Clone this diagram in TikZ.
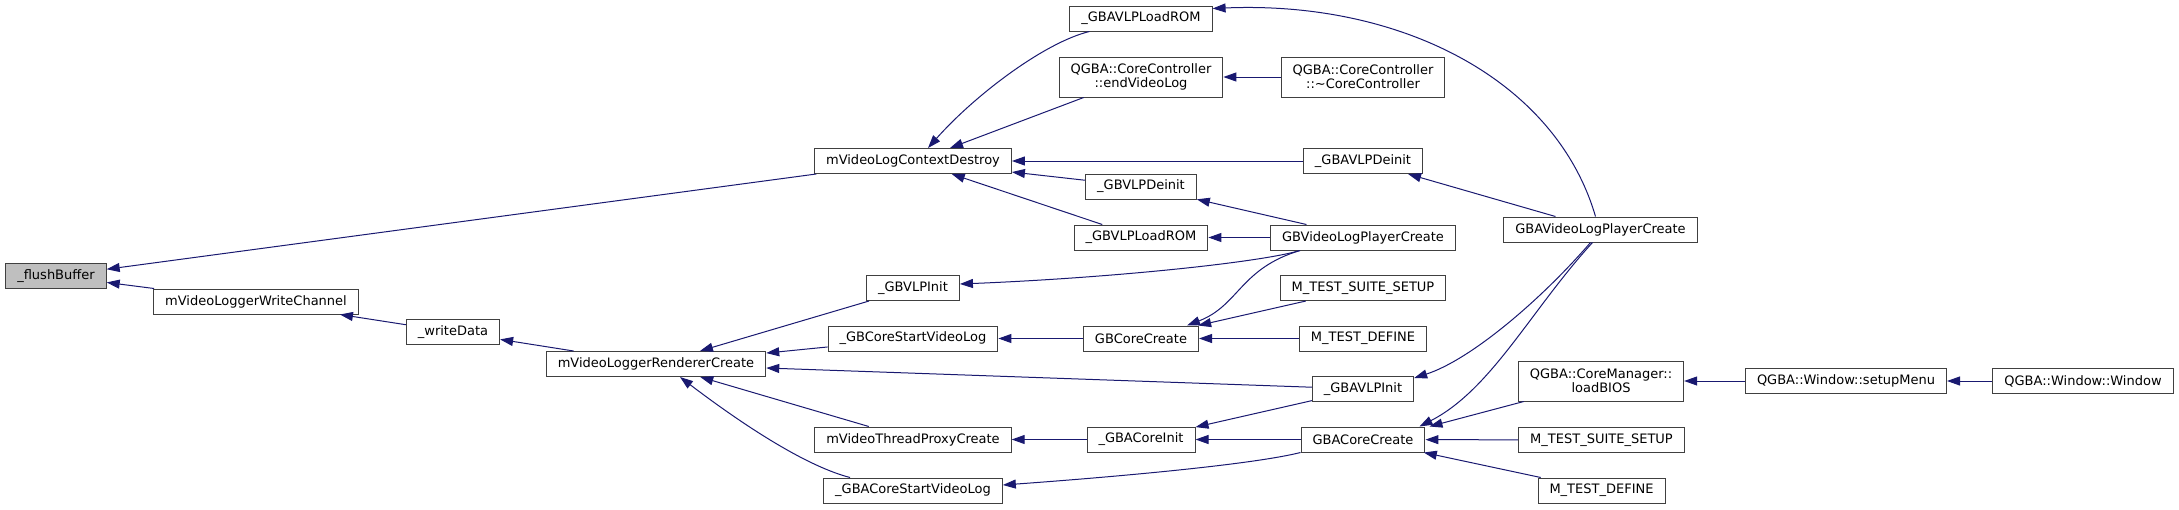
\documentclass[tikz,border=0pt]{standalone}
\usepackage{fontspec}
\setmainfont{DejaVu Sans}
\usetikzlibrary{arrows.meta, calc}
\definecolor{EdgeBlue}{HTML}{191970}
\definecolor{BoxLine}{HTML}{404040}
\definecolor{SelFill}{HTML}{BFBFBF}
\tikzset{
    fn/.style={rectangle, draw=BoxLine, fill=white, text=black, line width=1pt, inner xsep=11.5pt, inner ysep=0pt, minimum height=25pt, align=center, font=\fontsize{13}{14.3}\selectfont},
    fn_sel/.style={fn, fill=SelFill},
    fn_two/.style={fn, minimum height=40pt},
    arr/.style={-{Triangle[length=13pt, width=9pt]}, line width=1pt, draw=EdgeBlue},
}

\begin{document}
\begin{tikzpicture}[x=1pt, y=-1pt]
\useasboundingbox (0,0) rectangle (2179,509);
% selected function
\node[fn_sel] (flush) at (56,276) {\_flushBuffer};
% first callers
\node[fn] (writech) at (256,301.5) {mVideoLoggerWriteChannel};
\node[fn] (writedata) at (453,332) {\_writeData};
\node[fn] (renderer) at (656,364) {mVideoLoggerRendererCreate};
\node[fn] (ctxdestroy) at (913,161) {mVideoLogContextDestroy};
% column 5
\node[fn] (gbvlpinit) at (913,288) {\_GBVLPInit};
\node[fn] (gbcorestart) at (913,338.5) {\_GBCoreStartVideoLog};
\node[fn] (proxy) at (913,439.5) {mVideoThreadProxyCreate};
\node[fn] (gbacorestart) at (913,490.5) {\_GBACoreStartVideoLog};
% column 6
\node[fn] (gbavlploadrom) at (1141,18.5) {\_GBAVLPLoadROM};
\node[fn_two] (endvideolog) at (1141,77) {QGBA::CoreController\\::endVideoLog};
\node[fn] (gbvlpdeinit) at (1141,186.5) {\_GBVLPDeinit};
\node[fn] (gbvlploadrom) at (1141,237.5) {\_GBVLPLoadROM};
\node[fn] (gbcorecreate) at (1141,338.5) {GBCoreCreate};
\node[fn] (gbacoreinit) at (1141,439.5) {\_GBACoreInit};
% column 7
\node[fn_two] (dtor) at (1363,77) {QGBA::CoreController\\::\textasciitilde CoreController};
\node[fn] (gbavlpdeinit) at (1363,161) {\_GBAVLPDeinit};
\node[fn] (gbvlpcreate) at (1363,237.5) {GBVideoLogPlayerCreate};
\node[fn] (suite1) at (1363,288) {M\_TEST\_SUITE\_SETUP};
\node[fn] (define1) at (1363,338.5) {M\_TEST\_DEFINE};
\node[fn] (gbavlpinit) at (1363,389) {\_GBAVLPInit};
\node[fn] (gbacorecreate) at (1363,439.5) {GBACoreCreate};
% column 8
\node[fn] (gbavlpcreate) at (1600.5,229.5) {GBAVideoLogPlayerCreate};
\node[fn_two] (loadbios) at (1601,381) {QGBA::CoreManager::\\loadBIOS};
\node[fn] (suite2) at (1601.5,440) {M\_TEST\_SUITE\_SETUP};
\node[fn] (define2) at (1601.5,490.5) {M\_TEST\_DEFINE};
% Qt window
\node[fn] (setupmenu) at (1846,381) {QGBA::Window::setupMenu};
\node[fn] (window) at (2083,381) {QGBA::Window::Window};

% callers of _flushBuffer
\draw[arr] (ctxdestroy) -- (flush);
\draw[arr] (writech) -- (flush);
\draw[arr] (writedata) -- (writech);
\draw[arr] (renderer) -- (writedata);
% callers of mVideoLogContextDestroy
\draw[arr] ($(gbavlploadrom.south west)+(20,0)$) .. controls +(-45,11) and +(47,-53) .. ($(ctxdestroy.north)+(15,0)$);
\draw[arr] ($(endvideolog.south west)+(25,0)$) -- ($(ctxdestroy.north)+(37,0)$);
\draw[arr] (gbavlpdeinit) -- (ctxdestroy);
\draw[arr] (gbvlpdeinit) -- (ctxdestroy);
\draw[arr] (gbvlploadrom) -- (ctxdestroy);
\draw[arr] (dtor) -- (endvideolog);
% GBAVideoLogPlayerCreate
\draw[arr] ($(gbavlpcreate.north)+(-5,0)$) .. controls +(-40,-137) and +(188,-8) .. ($(gbavlploadrom.east)+(0,-10)$);
\draw[arr] (gbavlpcreate) -- (gbavlpdeinit);
\draw[arr] ($(gbavlpcreate.south)+(-10,0)$) .. controls +(-50,58) and +(56,-18) .. ($(gbavlpinit.east)+(0,-11)$);
\draw[arr] ($(gbavlpcreate.south)+(-8,0)$) .. controls +(-62,68) and +(72,-37) .. ($(gbacorecreate.north east)+(-6,0)$);
% GBVideoLogPlayerCreate
\draw[arr] (gbvlpcreate) -- (gbvlpdeinit);
\draw[arr] (gbvlpcreate) -- (gbvlploadrom);
\draw[arr] ($(gbvlpcreate.south)+(-63,0)$) .. controls +(-40,12) and +(150,-6) .. ($(gbvlpinit.east)+(0,-4)$);
\draw[arr] ($(gbvlpcreate.south)+(-63,0)$) .. controls +(-60,18) and +(52,-20) .. ($(gbcorecreate.north east)+(-12,0)$);
% callers of mVideoLoggerRendererCreate
\draw[arr] (gbvlpinit) -- (renderer);
\draw[arr] (gbcorestart) -- (renderer);
\draw[arr] (gbavlpinit) -- ($(renderer.east)+(0,4)$);
\draw[arr] (proxy) -- (renderer);
\draw[arr] ($(gbacorestart.north)+(-63,0)$) .. controls +(-50,-13) and +(50,38) .. ($(renderer.south)+(24,0)$);
% GB core
\draw[arr] (gbcorecreate) -- (gbcorestart);
\draw[arr] (suite1) -- (gbcorecreate);
\draw[arr] (define1) -- (gbcorecreate);
% GBA core
\draw[arr] (gbacoreinit) -- (proxy);
\draw[arr] (gbavlpinit) -- (gbacoreinit);
\draw[arr] (gbacorecreate) -- (gbacoreinit);
\draw[arr] (gbacorecreate.south west) .. controls +(-52,13) and +(97,-7) .. ($(gbacorestart.east)+(0,-5.5)$);
\draw[arr] (loadbios) -- ($(gbacorecreate.north east)+(4,0)$);
\draw[arr] (suite2) -- (gbacorecreate);
\draw[arr] (define2) -- (gbacorecreate);
% Qt window
\draw[arr] (setupmenu) -- (loadbios);
\draw[arr] (window) -- (setupmenu);
\end{tikzpicture}
\end{document}
